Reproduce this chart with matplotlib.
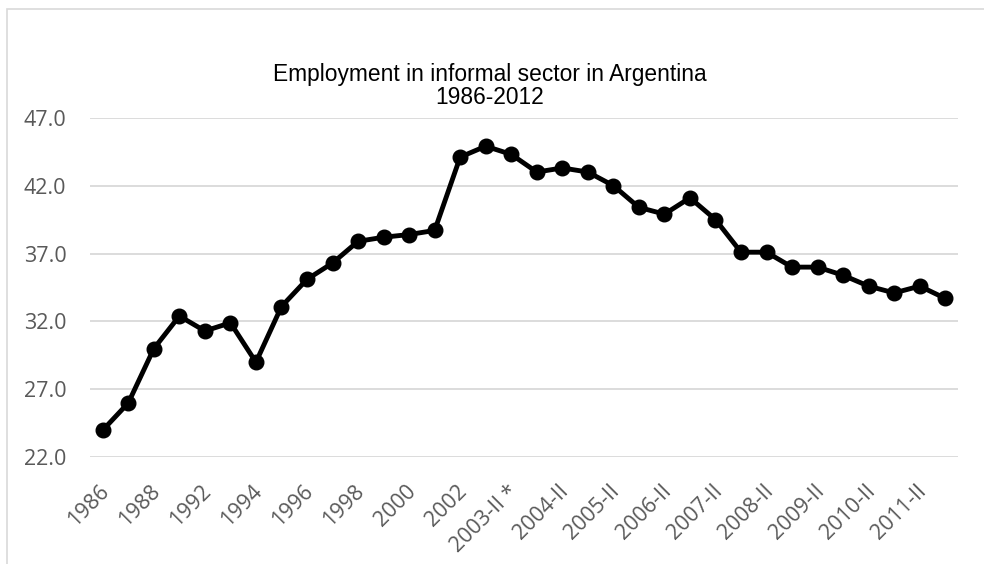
import matplotlib.pyplot as plt
from matplotlib.patches import Rectangle
from matplotlib.transforms import ScaledTranslation

periods = ['1986', '1987', '1988', '1990', '1992', '1993', '1994', '1995',
           '1996', '1997', '1998', '1999', '2000', '2001', '2002', '2003-I',
           '2003-II *', '2004-I', '2004-II', '2005-I', '2005-II', '2006-I',
           '2006-II', '2007-I', '2007-II', '2008-I', '2008-II', '2009-I',
           '2009-II', '2010-I', '2010-II', '2011-I', '2011-II', '2012-I']
informal = [24.0, 26.0, 30.0, 32.4, 31.3, 31.9, 29.0, 33.1, 35.1, 36.3,
            37.9, 38.2, 38.4, 38.7, 44.1, 44.9, 44.3, 43.0, 43.3, 43.0,
            42.0, 40.4, 39.9, 41.1, 39.5, 37.1, 37.1, 36.0, 36.0, 35.4,
            34.6, 34.1, 34.6, 33.7]
yticks = [22.0, 27.0, 32.0, 37.0, 42.0, 47.0]

fig = plt.figure(figsize=(9.84, 5.64), dpi=100)
# chart border (light gray, runs off the right and bottom edges)
fig.patches.append(Rectangle((7 / 984, -0.1), 1.2, 1 - 9 / 564 + 0.1,
                             transform=fig.transFigure, fill=False,
                             edgecolor='#d9d9d9', linewidth=1.2))

ax = fig.add_axes([90 / 984, 1 - 457.3 / 564, 868 / 984, 339.6 / 564])
x = list(range(len(periods)))
ax.plot(x, informal, color='black', linewidth=3.5, marker='o',
        markersize=10.5, zorder=3)

ax.set_xlim(-0.5, len(periods) - 0.5)
ax.set_ylim(22, 47)
ax.set_yticks(yticks)
ax.set_yticklabels([f'{v:.1f}' for v in yticks], family='Open Sans',
                   fontsize=15.5, color='#595959')
ax.set_xticks(x[::2])
ax.set_xticklabels(periods[::2], family='Open Sans', fontsize=15.5,
                   color='#595959', rotation=45, ha='right',
                   rotation_mode='anchor')
ax.tick_params(axis='both', length=0)
ax.tick_params(axis='y', pad=17)
ax.tick_params(axis='x', pad=17)
shift = ScaledTranslation(-4 / 100, 0, fig.dpi_scale_trans)
for lbl in ax.get_xticklabels():
    lbl.set_transform(lbl.get_transform() + shift)
ax.grid(axis='y', color='#d9d9d9', linewidth=1.3)
ax.set_axisbelow(True)
for s in ax.spines.values():
    s.set_visible(False)

fig.text(0.498, 1 - 74 / 564, 'Employment in informal sector in Argentina',
         ha='center', va='center', family='Liberation Sans', fontsize=16.4)
fig.text(0.498, 1 - 98 / 564, '1986-2012',
         ha='center', va='center', family='Liberation Sans', fontsize=16.4)

fig.savefig('out.png', dpi=100)
